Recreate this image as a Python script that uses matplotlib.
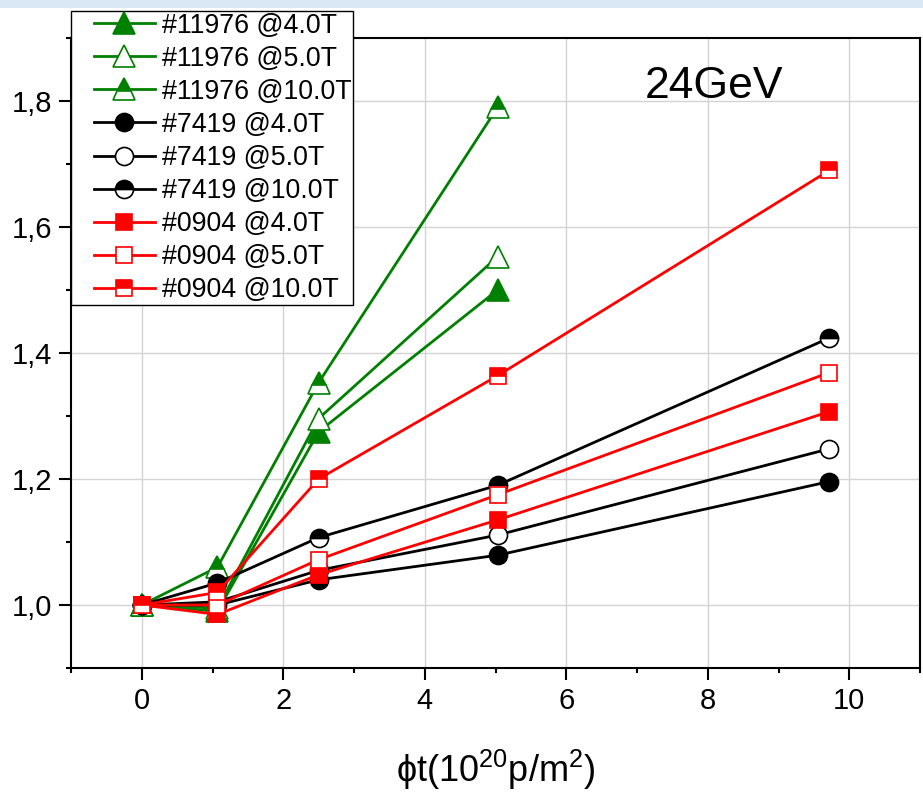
import numpy as np
import matplotlib
matplotlib.use("Agg")
import matplotlib.pyplot as plt
from matplotlib.ticker import MultipleLocator
from matplotlib.legend_handler import HandlerLine2D
from matplotlib.patches import Rectangle

plt.rcParams['font.family'] = ['Liberation Sans', 'DejaVu Sans']
plt.rcParams['mathtext.fontset'] = 'custom'
plt.rcParams['mathtext.rm'] = 'Liberation Sans'
plt.rcParams['mathtext.it'] = 'Liberation Sans'
plt.rcParams['mathtext.bf'] = 'Liberation Sans:bold'

# ---- data ----
fluence = [0, 1.07, 2.5, 5.03, 9.72]
fluence_g = [0, 1.07, 2.5, 5.03]

g_4T = [1.0, 0.99, 1.275, 1.50]
g_5T = [1.0, 0.995, 1.296, 1.553]
g_10T = [1.0, 1.06, 1.353, 1.79]

k_4T = [1.0, 1.0, 1.04, 1.079, 1.196]
k_5T = [1.0, 1.005, 1.055, 1.111, 1.248]
k_10T = [1.0, 1.035, 1.107, 1.19, 1.424]

r_4T = [1.0, 0.985, 1.048, 1.135, 1.307]
r_5T = [1.0, 1.0, 1.072, 1.175, 1.369]
r_10T = [1.0, 1.02, 1.2, 1.364, 1.69]

labels = ['#11976 @4.0T', '#11976 @5.0T', '#11976 @10.0T',
          '#7419 @4.0T', '#7419 @5.0T', '#7419 @10.0T',
          '#0904 @4.0T', '#0904 @5.0T', '#0904 @10.0T']

xticks = [0, 2, 4, 6, 8, 10]
yticks = [1.0, 1.2, 1.4, 1.6, 1.8]
ytick_labels = ['1,0', '1,2', '1,4', '1,6', '1,8']

GREEN = '#008000'
RED = '#FF0000'
BLACK = '#000000'

W, H = 923, 797
fig = plt.figure(figsize=(W / 100, H / 100), dpi=100)
fig.patch.set_facecolor('white')
ax = fig.add_axes([71 / W, 1 - 668 / H, (920 - 71) / W, (668 - 38) / H])

series = [
    (fluence_g, g_4T, GREEN, '^', 'full', 16),
    (fluence_g, g_5T, GREEN, '^', 'none', 16),
    (fluence_g, g_10T, GREEN, '^', 'top', 16),
    (fluence, k_4T, BLACK, 'o', 'full', 13),
    (fluence, k_5T, BLACK, 'o', 'none', 13),
    (fluence, k_10T, BLACK, 'o', 'top', 13),
    (fluence, r_4T, RED, 's', 'full', 12),
    (fluence, r_5T, RED, 's', 'none', 12),
    (fluence, r_10T, RED, 's', 'top', 12),
]

handles = []
for (xs, ys, c, m, fs, ms), lab in zip(series, labels):
    kw = dict(color=c, lw=2.0, marker=m, markersize=ms, markeredgecolor=c,
              markeredgewidth=1.2, label=lab, zorder=3)
    if fs == 'full':
        kw.update(markerfacecolor=c)
    elif fs == 'none':
        kw.update(markerfacecolor='white')
    else:
        kw.update(markerfacecolor=c, fillstyle='top', markerfacecoloralt='white')
    ln, = ax.plot(xs, ys, **kw)
    handles.append(ln)

ax.set_xlim(-1, 11)
ax.set_ylim(0.9, 1.9)
ax.set_xticks(xticks)
ax.set_yticks(yticks)
ax.set_yticklabels(ytick_labels)
ax.xaxis.set_minor_locator(MultipleLocator(1))
ax.yaxis.set_minor_locator(MultipleLocator(0.1))
ax.tick_params(which='major', length=8.6, width=1.5, direction='out',
               labelsize=21, pad=5)
ax.tick_params(which='minor', length=3.6, width=1.5, direction='out')
ax.tick_params(top=False, right=False, which='both')
ax.grid(True, which='major', color='#D3D3D3', lw=1.0, zorder=0)
ax.set_axisbelow(True)
for s in ax.spines.values():
    s.set_linewidth(1.5)

ax.set_xlabel(r'$\phi$t(10$^{20}$p/m$^{2}$)', fontsize=26, labelpad=24)

ax.text(0.757, 0.905, '24GeV', transform=ax.transAxes, fontsize=32,
        ha='center', va='baseline')


class ShiftHandler(HandlerLine2D):
    def __init__(self, shift, **kw):
        super().__init__(**kw)
        self.shift = shift

    def create_artists(self, legend, orig_handle, xdescent, ydescent, width,
                       height, fontsize, trans):
        return super().create_artists(legend, orig_handle, xdescent - self.shift,
                                      ydescent, width - self.shift, height,
                                      fontsize, trans)


LFS = 19.3
leg = ax.legend(handles=handles, loc='lower left',
                bbox_to_anchor=(71 / W, 1 - 304.5 / H), bbox_transform=fig.transFigure,
                borderaxespad=0, fontsize=LFS, handlelength=59.5 / LFS,
                handletextpad=5 / LFS, borderpad=1.0 / LFS, labelspacing=0.263,
                fancybox=False, framealpha=1, edgecolor='black', numpoints=1,
                handler_map={h: ShiftHandler(15.5) for h in handles})
leg.get_frame().set_linewidth(1.0)
leg.set_zorder(10)

fig.patches.append(Rectangle((0, 1 - 7.5 / H), 1, 7.5 / H, transform=fig.transFigure,
                             facecolor='#DAE7F4', edgecolor='none', zorder=100))

fig.savefig('out.png', dpi=100)
